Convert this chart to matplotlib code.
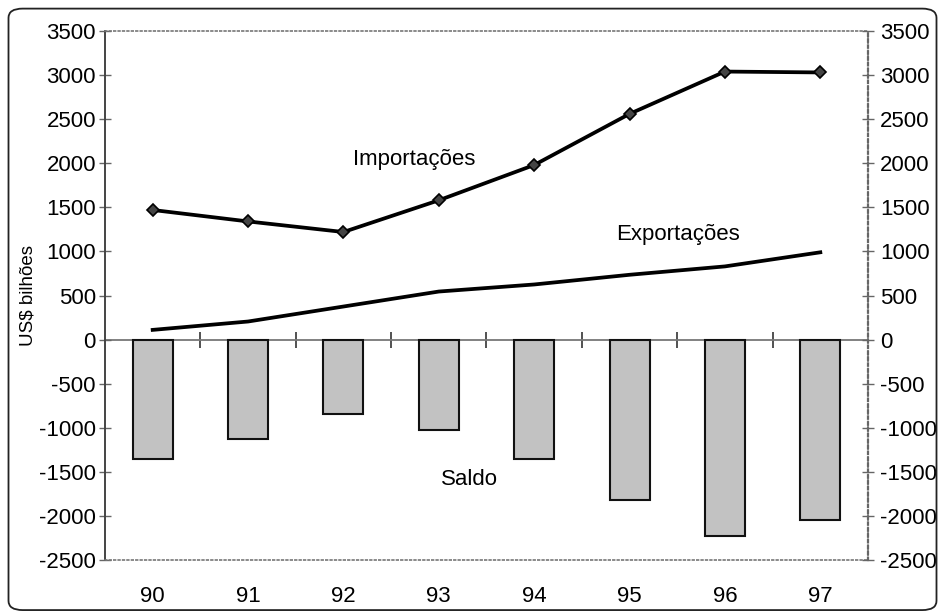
import numpy as np
import matplotlib.pyplot as plt
from matplotlib.patches import FancyBboxPatch

plt.rcParams['font.family'] = ['Liberation Sans', 'DejaVu Sans']
plt.rcParams['axes.unicode_minus'] = False

anos = ['90', '91', '92', '93', '94', '95', '96', '97']
importacoes = [1470, 1340, 1220, 1580, 1980, 2560, 3040, 3030]
exportacoes = [110, 205, 375, 545, 625, 735, 830, 990]
saldo = [-1360, -1130, -840, -1030, -1350, -1820, -2230, -2050]
yticks = np.arange(-2500, 3501, 500)

x = np.arange(len(anos))

fig = plt.figure(figsize=(9.45, 6.15), dpi=100)
ax = fig.add_axes([105/945, 55/615, 763/945, 529/615])

# moldura arredondada
frame = FancyBboxPatch((0.009, 0.008), 0.982, 0.978, boxstyle="round,pad=0,rounding_size=0.015",
                       transform=fig.transFigure, fill=False, ec='#222', lw=1.3)
fig.patches.append(frame)

ax.bar(x, saldo, width=0.42, color='#c2c2c2', edgecolor='#111', linewidth=1.5, zorder=2)
ax.plot(x, importacoes, color='black', lw=2.7, marker='D', ms=6.5,
        mfc='#444', mec='black', mew=1.2, zorder=3)
ax.plot(x, exportacoes, color='black', lw=2.7, zorder=3)

ax.set_xlim(-0.5, len(anos) - 0.5)
ax.set_ylim(-2500, 3500)
ax.set_yticks(yticks)
ax.set_xticks(x)
ax.set_xticklabels(anos)
ax.tick_params(axis='x', length=0, pad=19, labelsize=16)
ax.tick_params(axis='y', direction='inout', length=9, width=1, color='#666',
               labelsize=16, pad=2)
ax.set_ylabel('US$ bilhões', fontsize=13.5, labelpad=2)

ax.spines['left'].set_color('#444')
ax.spines['left'].set_linewidth(1.4)
for s in ['top', 'bottom', 'right']:
    ax.spines[s].set_color('#777')
    ax.spines[s].set_linestyle(':')
    ax.spines[s].set_linewidth(1.2)

# eixo direito
ax2 = ax.twinx()
ax2.set_ylim(ax.get_ylim())
ax2.set_yticks(yticks)
ax2.tick_params(axis='y', direction='inout', length=9, width=1, color='#666',
                labelsize=16, pad=4)
for s in ax2.spines.values():
    s.set_visible(False)
ax2.spines['right'].set_visible(True)
ax2.spines['right'].set_color('#666')
ax2.spines['right'].set_linestyle(':')
ax2.spines['right'].set_linewidth(1.6)

# eixo das categorias cruzando em zero
zx = ax.secondary_xaxis(0, transform=ax.transData)
zx.set_xticks(x[:-1] + 0.5)
zx.set_xticklabels([])
zx.tick_params(direction='inout', length=11, width=1.2, color='#333')
zx.spines['bottom'].set_color('#777')
zx.spines['bottom'].set_linewidth(1.3)

ax.text(2.74, 2045, 'Importações', fontsize=16, ha='center', va='center')
ax.text(5.51, 1195, 'Exportações', fontsize=16, ha='center', va='center')
ax.text(3.32, -1590, 'Saldo', fontsize=16, ha='center', va='center')

fig.savefig('out.png', dpi=100)
